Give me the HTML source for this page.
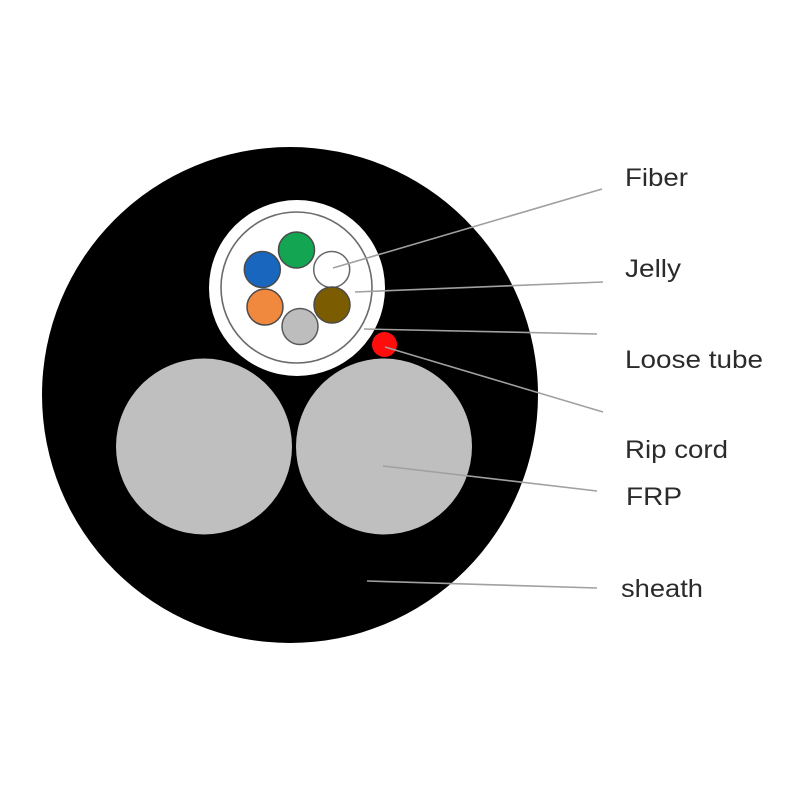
<!DOCTYPE html>
<html><head><meta charset="utf-8"><style>
html,body{margin:0;padding:0;background:#fff;}
svg{display:block;}
text{font-family:"Liberation Sans",Arial,sans-serif;font-size:25px;fill:#2b2b2b;}
</style></head><body>
<svg width="800" height="800" viewBox="0 0 800 800" xmlns="http://www.w3.org/2000/svg">
<rect width="800" height="800" fill="#fff"/>
<circle cx="290" cy="395" r="248" fill="#000"/>
<circle cx="204" cy="446.5" r="88" fill="#bfbfbf"/>
<circle cx="384" cy="446.5" r="88" fill="#bfbfbf"/>
<circle cx="297" cy="288" r="88" fill="#fff"/>
<circle cx="296.5" cy="287.5" r="75.5" fill="none" stroke="#6a6a6a" stroke-width="1.6"/>
<g stroke="#4a4a4a" stroke-width="1.5">
<circle cx="296.5" cy="250" r="18" fill="#14a552"/>
<circle cx="331.7" cy="269.5" r="18" fill="#ffffff" stroke="#666"/>
<circle cx="262.3" cy="269.5" r="18" fill="#1866bd"/>
<circle cx="265" cy="307" r="18" fill="#f0883e"/>
<circle cx="332" cy="305" r="18" fill="#7b5c00"/>
<circle cx="300" cy="326.5" r="18" fill="#bdbdbd" stroke="#5a5a5a"/>
</g>
<circle cx="384.5" cy="344.5" r="12.5" fill="#ff0d0d"/>
<g stroke="#a0a0a0" stroke-width="1.6" fill="none">
<line x1="333" y1="268" x2="602" y2="189"/>
<line x1="355" y1="292" x2="603" y2="282"/>
<line x1="364" y1="329" x2="597" y2="334"/>
<line x1="385" y1="347" x2="603" y2="412"/>
<line x1="383" y1="466" x2="597" y2="491"/>
<line x1="367" y1="581" x2="597" y2="588"/>
</g>
<text x="625" y="186" textLength="63" lengthAdjust="spacingAndGlyphs">Fiber</text>
<text x="625" y="277" textLength="56" lengthAdjust="spacingAndGlyphs">Jelly</text>
<text x="625" y="368" textLength="138" lengthAdjust="spacingAndGlyphs">Loose tube</text>
<text x="625" y="458" textLength="103" lengthAdjust="spacingAndGlyphs">Rip cord</text>
<text x="626" y="505" textLength="56" lengthAdjust="spacingAndGlyphs">FRP</text>
<text x="621" y="597" textLength="82" lengthAdjust="spacingAndGlyphs">sheath</text>
</svg>
</body></html>
